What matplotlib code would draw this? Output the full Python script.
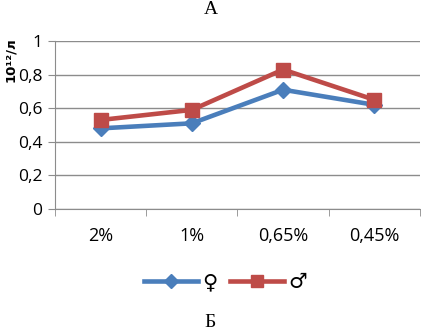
import matplotlib.pyplot as plt
from matplotlib.ticker import FixedLocator, FuncFormatter

# chart data
categories = ['2%', '1%', '0,65%', '0,45%']
female = [0.48, 0.51, 0.71, 0.62]
male = [0.53, 0.59, 0.83, 0.65]
y_ticks = [0, 0.2, 0.4, 0.6, 0.8, 1.0]

blue = '#4A7EBB'
red = '#BE4B48'
grid_col = '#8C8C8C'

fig = plt.figure(figsize=(4.21, 3.32), dpi=100)
ax = fig.add_axes([0.1306, 0.3705, 0.867, 0.506])

x = list(range(len(categories)))
ax.plot(x, female, color=blue, lw=3.3, marker='D', ms=8, label='♀')
ax.plot(x, male, color=red, lw=3.3, marker='s', ms=10.5, label='♂')

ax.set_xlim(-0.5, len(categories) - 0.5)
ax.set_ylim(0, 1)
ax.set_yticks(y_ticks)
ax.yaxis.set_major_formatter(FuncFormatter(lambda v, p: ('%g' % v).replace('.', ',')))
ax.set_xticks(x)
ax.set_xticklabels(categories, fontsize=13, family='Open Sans')
ax.xaxis.set_minor_locator(FixedLocator([i - 0.5 for i in range(len(categories) + 1)]))
ax.tick_params(axis='x', which='major', length=0, pad=13)
ax.tick_params(axis='x', which='minor', length=5, color=grid_col)
ax.tick_params(axis='y', length=5, color=grid_col, labelsize=12.5, pad=4)
for lbl in ax.get_yticklabels():
    lbl.set_family('Open Sans')

ax.grid(axis='y', color=grid_col, lw=1)
ax.set_axisbelow(True)
for s in ['top', 'right']:
    ax.spines[s].set_visible(False)
ax.spines['left'].set_color(grid_col)
ax.spines['bottom'].set_color(grid_col)

fig.text(0.025, 0.82, '10¹²/л', rotation=90, ha='center', va='center',
         fontsize=9.5, fontweight='bold')
fig.text(0.5, 0.972, 'А', ha='center', va='center', fontsize=14, family='Liberation Serif')
fig.text(0.5, 0.03, 'Б', ha='center', va='center', fontsize=14, family='Liberation Serif')

fig.legend(loc='center', bbox_to_anchor=(0.535, 0.15), ncol=2, frameon=False,
           fontsize=15, handlelength=2.6, columnspacing=0.6, handletextpad=0.2,
           markerscale=0.85)

fig.savefig('out.png', dpi=100)
